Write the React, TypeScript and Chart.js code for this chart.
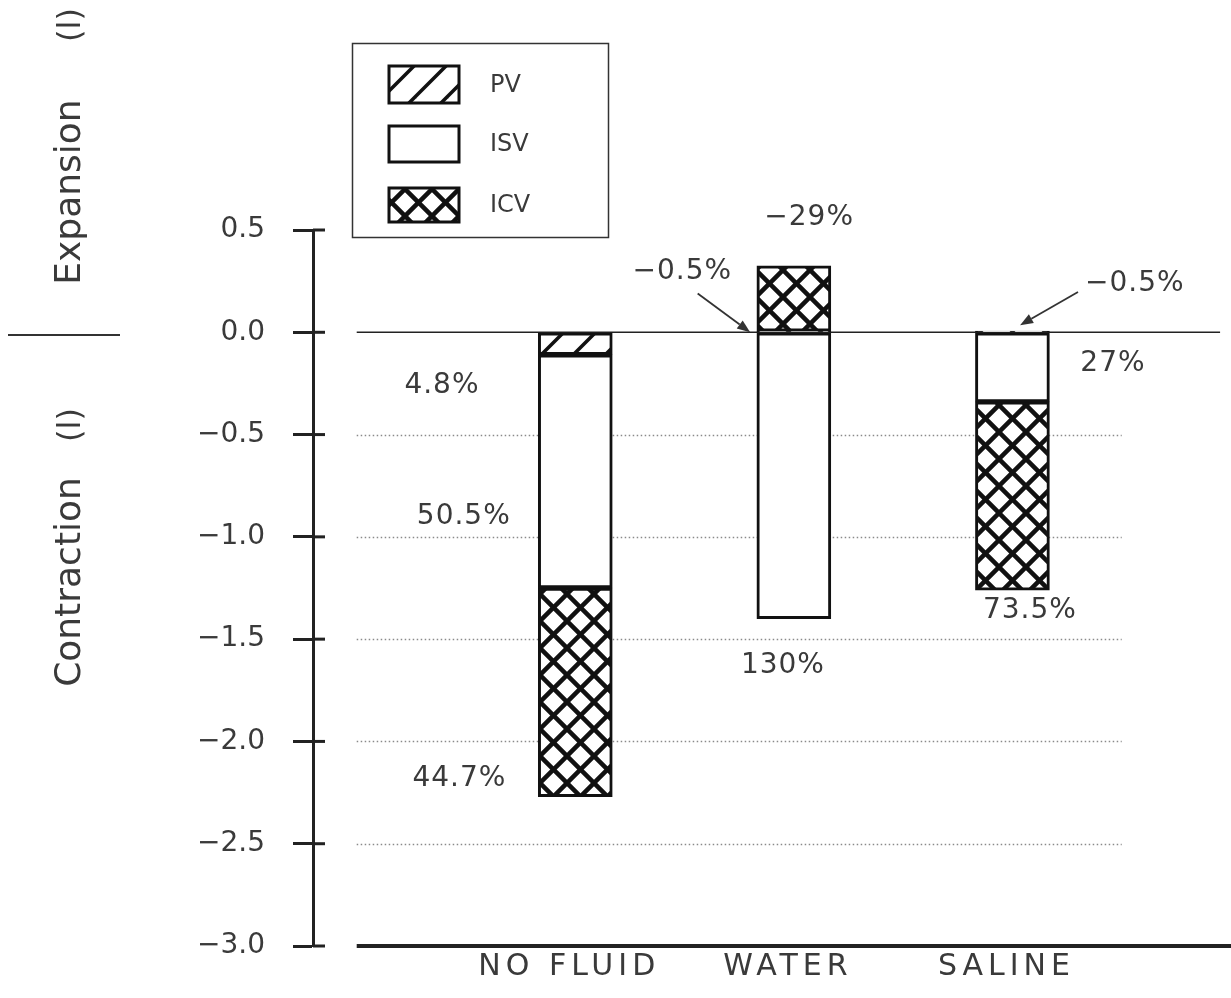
import React, { useEffect, useRef } from 'react';
import { Chart, registerables } from 'chart.js';

Chart.register(...registerables);

// ---- data ----
const categories = ['NO FLUID', 'WATER', 'SALINE'];
const categoryPositions = [1, 2, 3];
const seriesLabels = ['PV', 'ISV', 'ICV'];
const pvValues = [-0.11, 0.005, 0.006];
const isvValues = [-1.14, -1.4, -0.34];
const icvValues = [-1.02, 0.32, -0.92];
const yTicks = [0.5, 0, -0.5, -1, -1.5, -2, -2.5, -3];
const gridTicks = [-0.5, -1, -1.5, -2, -2.5];
const percentTexts = ['4.8%', '50.5%', '44.7%', '\u22120.5%', '130%', '\u221229%', '\u22120.5%', '27%', '73.5%'];
// anchors of the percentage labels, in data units (x, y)
const percentAnchorX = [0.39, 0.49, 0.47, 1.49, 1.95, 2.07, 3.56, 3.46, 3.08];
const percentAnchorY = [-0.26, -0.9, -2.18, 0.295, -1.63, 0.56, 0.236, -0.155, -1.36];
// arrows (from x, from y, to x, to y) in data units
const arrowFromX = [1.56, 3.3];
const arrowFromY = [0.19, 0.197];
const arrowToX = [1.8, 3.035];
const arrowToY = [0.0, 0.035];

const FONT = '"DejaVu Sans", "Liberation Sans", sans-serif';
const INK = '#222';
const TEXT = '#3a3a3a';

function makeCross(): CanvasPattern {
  const s = 27;
  const c = document.createElement('canvas');
  c.width = s;
  c.height = s;
  const g = c.getContext('2d')!;
  g.fillStyle = '#fff';
  g.fillRect(0, 0, s, s);
  g.strokeStyle = '#111';
  g.lineWidth = 4.5;
  for (const o of [-s, 0, s]) {
    g.beginPath();
    g.moveTo(o - s, -s);
    g.lineTo(o + 2 * s, 2 * s);
    g.stroke();
    g.beginPath();
    g.moveTo(o - s, 2 * s);
    g.lineTo(o + 2 * s, -s);
    g.stroke();
  }
  return g.createPattern(c, 'repeat')!;
}

function makeHatch(): CanvasPattern {
  const s = 32;
  const c = document.createElement('canvas');
  c.width = s;
  c.height = s;
  const g = c.getContext('2d')!;
  g.fillStyle = '#fff';
  g.fillRect(0, 0, s, s);
  g.strokeStyle = '#111';
  g.lineWidth = 3.5;
  for (const o of [-s, 0, s]) {
    g.beginPath();
    g.moveTo(o - s, 2 * s);
    g.lineTo(o + 2 * s, -s);
    g.stroke();
  }
  return g.createPattern(c, 'repeat')!;
}

function fmtTick(v: number): string {
  if (Math.abs(v) < 1e-9) return '0.0';
  return (v < 0 ? '\u2212' : '') + Math.abs(v).toFixed(1);
}

export default function App() {
  const ref = useRef<HTMLCanvasElement | null>(null);

  useEffect(() => {
    if (!ref.current) return;
    const hatch = makeHatch();
    const cross = makeCross();
    const fills = [hatch, '#ffffff', cross];
    const seriesValues = [pvValues, isvValues, icvValues];

    const decor = {
      id: 'decor',
      beforeDraw(chart: any) {
        const ctx = chart.ctx;
        ctx.save();
        ctx.fillStyle = '#fff';
        ctx.fillRect(0, 0, chart.width, chart.height);
        ctx.restore();
      },
      beforeDatasetsDraw(chart: any) {
        const ctx = chart.ctx;
        const xs = chart.scales.x;
        const ys = chart.scales.y;
        const ca = chart.chartArea;
        ctx.save();
        // dotted grid lines
        ctx.strokeStyle = '#8a8a8a';
        ctx.lineWidth = 1.3;
        ctx.setLineDash([1.5, 2.5]);
        for (const t of gridTicks) {
          const y = Math.round(ys.getPixelForValue(t)) + 0.5;
          ctx.beginPath();
          ctx.moveTo(xs.getPixelForValue(0), y);
          ctx.lineTo(xs.getPixelForValue(3.5), y);
          ctx.stroke();
        }
        ctx.setLineDash([]);
        // zero line
        ctx.strokeStyle = INK;
        ctx.lineWidth = 1.6;
        const y0 = ys.getPixelForValue(0);
        ctx.beginPath();
        ctx.moveTo(xs.getPixelForValue(0), y0);
        ctx.lineTo(xs.getPixelForValue(3.95), y0);
        ctx.stroke();
        // bottom thick line
        ctx.lineWidth = 4;
        const yb = ys.getPixelForValue(-3);
        ctx.beginPath();
        ctx.moveTo(xs.getPixelForValue(0), yb);
        ctx.lineTo(ca.right, yb);
        ctx.stroke();
        // inner tick stubs
        ctx.lineWidth = 3;
        for (const t of yTicks) {
          const y = ys.getPixelForValue(t);
          ctx.beginPath();
          ctx.moveTo(ca.left, y);
          ctx.lineTo(ca.left + 12, y);
          ctx.stroke();
        }
        ctx.restore();
      },
      afterDatasetsDraw(chart: any) {
        const ctx = chart.ctx;
        const xs = chart.scales.x;
        const ys = chart.scales.y;
        ctx.save();
        // percentage labels
        ctx.fillStyle = TEXT;
        ctx.font = `28px ${FONT}`;
        ctx.textAlign = 'center';
        ctx.textBaseline = 'middle';
        (ctx as any).letterSpacing = '1px';
        percentTexts.forEach((t, i) => {
          ctx.fillText(t, xs.getPixelForValue(percentAnchorX[i]), ys.getPixelForValue(percentAnchorY[i]));
        });
        (ctx as any).letterSpacing = '0px';
        // arrows
        ctx.strokeStyle = '#333';
        ctx.fillStyle = '#333';
        ctx.lineWidth = 1.8;
        arrowFromX.forEach((_, i) => {
          const x1 = xs.getPixelForValue(arrowFromX[i]);
          const y1 = ys.getPixelForValue(arrowFromY[i]);
          const x2 = xs.getPixelForValue(arrowToX[i]);
          const y2 = ys.getPixelForValue(arrowToY[i]);
          const a = Math.atan2(y2 - y1, x2 - x1);
          const L = 13;
          const W = 5;
          const bx = x2 - L * Math.cos(a);
          const by = y2 - L * Math.sin(a);
          ctx.beginPath();
          ctx.moveTo(x1, y1);
          ctx.lineTo(bx, by);
          ctx.stroke();
          ctx.beginPath();
          ctx.moveTo(x2, y2);
          ctx.lineTo(bx + W * Math.sin(a), by - W * Math.cos(a));
          ctx.lineTo(bx - W * Math.sin(a), by + W * Math.cos(a));
          ctx.closePath();
          ctx.fill();
        });
        // category labels
        ctx.fillStyle = TEXT;
        ctx.font = `30px ${FONT}`;
        ctx.textAlign = 'center';
        ctx.textBaseline = 'middle';
        (ctx as any).letterSpacing = '5px';
        categories.forEach((c, i) => {
          ctx.fillText(c, xs.getPixelForValue(categoryPositions[i]) - 6, 967);
        });
        (ctx as any).letterSpacing = '0px';
        // legend
        ctx.strokeStyle = '#333';
        ctx.lineWidth = 1.5;
        ctx.strokeRect(352.5, 43.5, 256, 194);
        const sw = [
          [389, 66, 70, 37],
          [389, 126, 70, 36],
          [389, 188, 70, 34],
        ];
        ctx.font = `24px ${FONT}`;
        ctx.textAlign = 'left';
        ctx.textBaseline = 'middle';
        seriesLabels.forEach((lab, i) => {
          const [x, y, w, h] = sw[i];
          ctx.fillStyle = fills[i] as any;
          ctx.fillRect(x, y, w, h);
          ctx.strokeStyle = '#111';
          ctx.lineWidth = 3;
          ctx.strokeRect(x, y, w, h);
          ctx.fillStyle = TEXT;
          ctx.fillText(lab, 490, y + h / 2 + 1);
        });
        // left titles
        ctx.fillStyle = TEXT;
        ctx.textAlign = 'center';
        ctx.textBaseline = 'middle';
        const vtext = (t: string, x: number, y: number, size: number) => {
          ctx.save();
          ctx.translate(x, y);
          ctx.rotate(-Math.PI / 2);
          ctx.font = `${size}px ${FONT}`;
          ctx.fillText(t, 0, 0);
          ctx.restore();
        };
        vtext('(l)', 72, 25, 32);
        vtext('Expansion', 71, 192, 36);
        vtext('(l)', 72, 425, 32);
        vtext('Contraction', 71, 582, 36);
        // separator line
        ctx.strokeStyle = '#333';
        ctx.lineWidth = 2;
        ctx.beginPath();
        ctx.moveTo(8, 335);
        ctx.lineTo(120, 335);
        ctx.stroke();
        ctx.restore();
      },
    };

    const chart = new Chart(ref.current, {
      type: 'bar',
      data: {
        datasets: seriesLabels.map((lab, k) => ({
          label: lab,
          data: categoryPositions.map((x, i) => ({ x, y: seriesValues[k][i] })),
          backgroundColor: fills[k] as any,
          borderColor: '#111',
          borderWidth: 3,
          borderSkipped: false,
          barThickness: 74,
        })),
      },
      options: {
        animation: false,
        responsive: false,
        devicePixelRatio: 1,
        layout: { padding: { top: 230, bottom: 52, left: 0, right: 0 } },
        plugins: { legend: { display: false }, tooltip: { enabled: false }, title: { display: false } },
        scales: {
          x: {
            type: 'linear',
            min: -0.2,
            max: 4.0,
            stacked: true,
            display: false,
            offset: false,
            grid: { offset: false },
          },
          y: {
            type: 'linear',
            min: -3,
            max: 0.5,
            stacked: true,
            position: 'left',
            afterBuildTicks: (s: any) => {
              s.ticks = yTicks.map((v) => ({ value: v }));
            },
            afterFit: (s: any) => {
              s.width = 313;
            },
            border: { display: true, color: INK, width: 3 },
            grid: {
              display: true,
              drawOnChartArea: false,
              drawTicks: true,
              tickLength: 20,
              tickWidth: 3,
              tickColor: INK,
              color: INK,
            },
            ticks: {
              padding: 28,
              color: TEXT,
              font: { family: FONT, size: 28 },
              callback: (v: any) => fmtTick(Number(v)),
            },
          },
        },
      } as any,
      plugins: [decor],
    });
    return () => chart.destroy();
  }, []);

  return (
    <div style={{ position: 'absolute', left: 0, top: 0, width: 1231, height: 998 }}>
      <canvas ref={ref} width={1231} height={998} style={{ display: 'block' }} />
    </div>
  );
}
